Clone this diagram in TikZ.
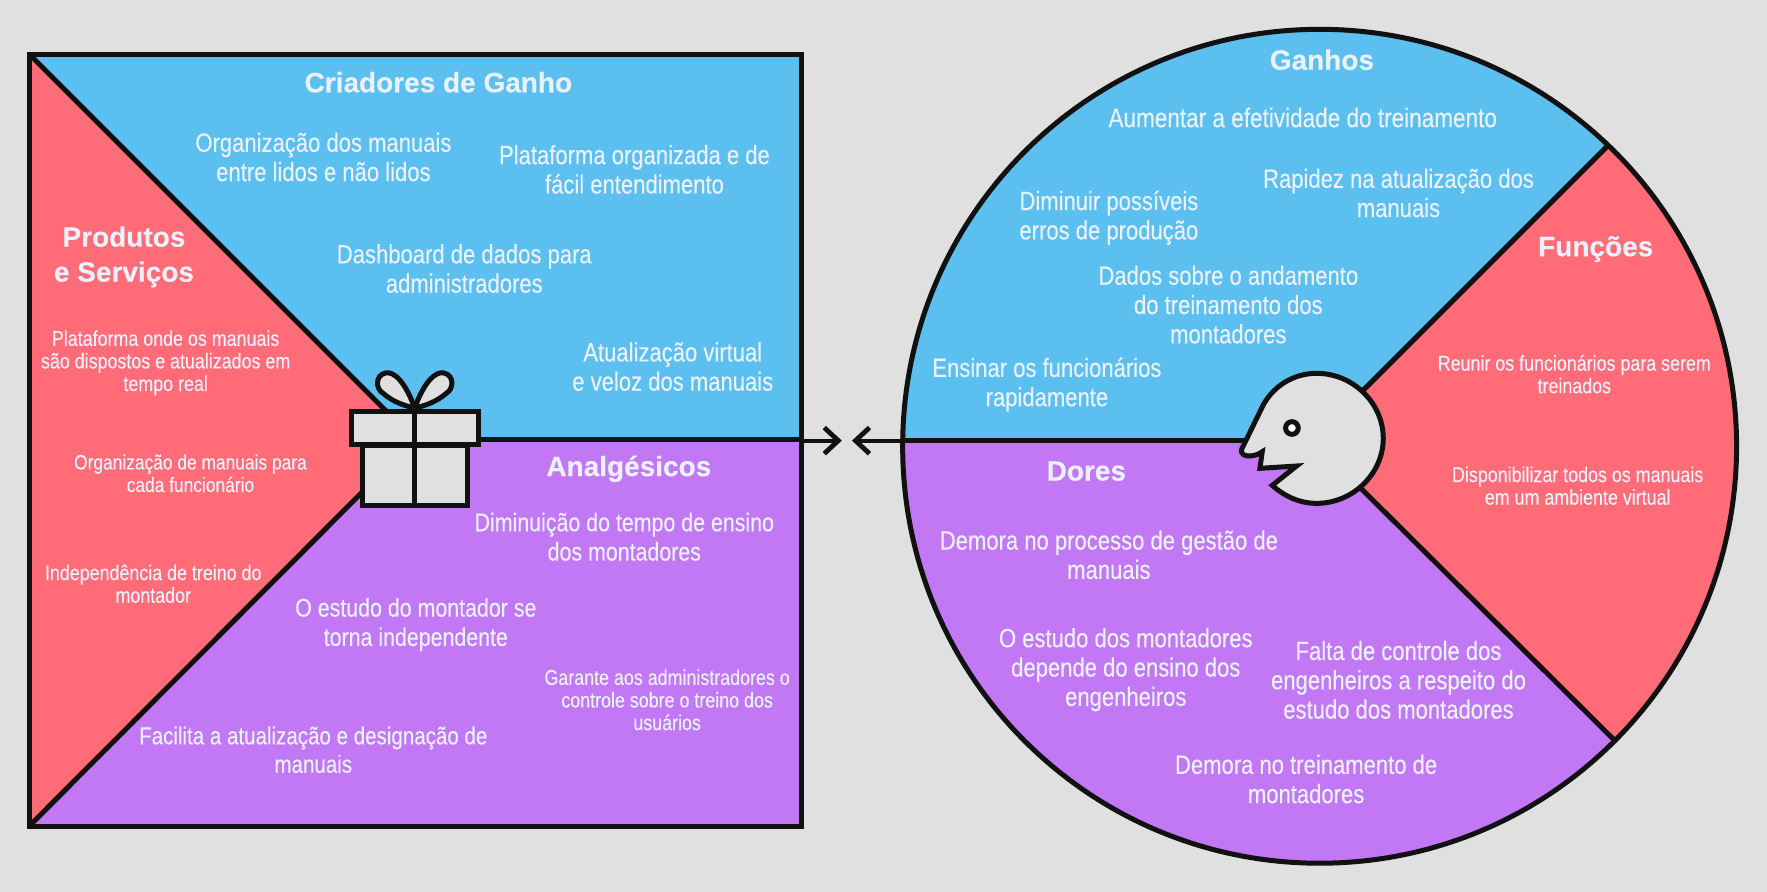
\documentclass[tikz,border=0pt]{standalone}
\usepackage{fontspec}
\setmainfont[FakeStretch=0.835,FakeBold=0.25]{Liberation Sans}
\newfontfamily\headfont[FakeBold=0.3]{Liberation Sans}
\usetikzlibrary{arrows.meta}
\definecolor{bgcol}{HTML}{E0E0E0}
\definecolor{bluecol}{HTML}{5BBFF0}
\definecolor{redcol}{HTML}{FF6B76}
\definecolor{purplecol}{HTML}{C278F5}
\definecolor{inkcol}{HTML}{111111}
\definecolor{textcol}{HTML}{EBF1FA}
\tikzset{
  body/.style={text=textcol,align=center,inner sep=0pt,yshift=0.4pt,font=\fontsize{13.2}{14.65}\selectfont},
  bodytight/.style={body,font=\fontsize{12.8}{14.65}\selectfont},
  bodywide/.style={body,font=\fontsize{12.3}{14.2}\selectfont},
  bodysmall/.style={text=textcol,align=center,inner sep=0pt,font=\fontsize{10.7}{11.3}\selectfont},
  heading/.style={text=textcol,align=center,inner sep=0pt,font=\headfont\bfseries\fontsize{14}{17.5}\selectfont},
  outline/.style={draw=inkcol,line width=2.5pt,line join=miter},
  iconpart/.style={draw=inkcol,fill=bgcol,line width=2.5pt},
  flowarrow/.style={draw=inkcol,line width=2pt,-{Straight Barb[length=7pt,width=13pt,line width=2.4pt]}}
}
\begin{document}
\begin{tikzpicture}[x=0.5635pt,y=-0.5635pt]
\useasboundingbox[fill=bgcol] (0,0) rectangle (1568,791.5);
\coordinate (sqTL) at (26,48);
\coordinate (sqTR) at (711,48);
\coordinate (sqBR) at (711,733);
\coordinate (sqBL) at (26,733);
\coordinate (sqC) at (368,390);
\coordinate (sqE) at (711,390);
\coordinate (circC) at (1171,396);
\coordinate (circW) at (801,391);
\coordinate (headC) at (1165,391);
\coordinate (tipA) at (747,391);
\coordinate (tipB) at (756,391);
% value proposition square
\fill[bluecol] (sqTL) -- (sqTR) -- (sqE) -- (sqC) -- cycle;
\fill[purplecol] (sqBL) -- (sqBR) -- (sqE) -- (sqC) -- cycle;
\fill[redcol] (sqTL) -- (sqC) -- (sqBL) -- cycle;
\draw[outline] (sqTL) -- (sqC) -- (sqBL);
\draw[outline] (sqC) -- (sqE);
\draw[outline] (sqTL) rectangle (sqBR);
% customer circle
\begin{scope}
\clip (circC) circle (370);
\fill[bluecol] (headC) -- (1465,91) -- (1465,0) -- (780,0) -- (780,391) -- cycle;
\fill[purplecol] (headC) -- (1465,689) -- (1465,800) -- (780,800) -- (780,391) -- cycle;
\fill[redcol] (headC) -- (1465,91) -- (1560,91) -- (1560,689) -- (1465,689) -- cycle;
\draw[outline] (1465,91) -- (headC) -- (1465,689);
\draw[outline] (circW) -- (headC);
\end{scope}
\draw[outline] (circC) circle (370);
% arrows between the two
\draw[flowarrow] (sqE |- tipA) -- (tipA);
\draw[flowarrow] (circW) -- (tipB);
% gift
\draw[iconpart] (368,362) .. controls (360,340) and (350,329) .. (342,331) .. controls (333,333) and (333,345) .. (340,349) .. controls (348,356) and (358,360) .. (368,362);
\draw[iconpart] (368,362) .. controls (376,340) and (386,329) .. (394,331) .. controls (403,333) and (403,345) .. (396,349) .. controls (388,356) and (378,360) .. (368,362);
\draw[iconpart] (322,395) rectangle (414.6,449);
\draw[iconpart] (312,365) rectangle (424.5,394.6);
\draw[draw=inkcol,line width=2.5pt] (368,365) -- (368,449);
% head
\begin{scope}[shift={(1020.4,301.7)},x=0.1667pt,y=-0.1667pt]
\draw[iconpart,line join=miter] (367,436) -- (440,378) -- (330,385) -- (337,335) .. controls (315,352) and (270,355) .. (275,328) -- (335,205) .. controls (365,140) and (430,100) .. (500,100) .. controls (610,100) and (700,190) .. (700,295) .. controls (700,400) and (610,490) .. (500,490) .. controls (450,490) and (405,470) .. (367,436) -- cycle;
\draw[draw=inkcol,fill=white,line width=2.5pt] (426,264) circle (19);
\end{scope}
% square texts
\node[heading] (crTitle) at (389,73) {Criadores de Ganho};
\node[body] (crA) at (287,140) {Organização dos manuais\\entre lidos e não lidos};
\node[body] (crB) at (563,151) {Plataforma organizada e de\\fácil entendimento};
\node[body] (crC) at (412,239) {Dashboard de dados para\\administradores};
\node[body] (crD) at (597,326) {Atualização virtual\\e veloz dos manuais};
\node[heading] (psTitle) at (110,228) {Produtos\\e Serviços};
\node[bodysmall] (psA) at (147,322) {Plataforma onde os manuais\\são dispostos e atualizados em\\tempo real};
\node[bodysmall,font=\fontsize{10.4}{11.3}\selectfont] (psB) at (169,420) {Organização de manuais para\\cada funcionário};
\node[bodysmall] (psC) at (136,518) {Independência de treino do\\montador};
\node[heading] (anTitle) at (558,416) {Analgésicos};
\node[bodytight] (anA) at (554,477) {Diminuição do tempo de ensino\\dos montadores};
\node[bodytight] (anB) at (369,555) {O estudo do montador se\\torna independente};
\node[bodysmall] (anC) at (592,621) {Garante aos administradores o\\controle sobre o treino dos\\usuários};
\node[bodywide] (anD) at (278,666) {Facilita a atualização e designação de\\manuais};
% circle texts
\node[heading] (gaTitle) at (1173,53) {Ganhos};
\node[body,font=\fontsize{13.5}{14.65}\selectfont] (gaA) at (1156,105) {Aumentar a efetividade do treinamento};
\node[body] (gaB) at (1241,172) {Rapidez na atualização dos\\manuais};
\node[body] (gaC) at (984,194) {Diminuir possíveis\\erros de produção};
\node[body] (gaD) at (1090,271) {Dados sobre o andamento\\do treinamento dos\\montadores};
\node[body] (gaE) at (929,342) {Ensinar os funcionários\\rapidamente};
\node[heading] (fuTitle) at (1416,221) {Funções};
\node[bodysmall] (fuA) at (1397,332) {Reunir os funcionários para serem\\treinados};
\node[bodysmall] (fuB) at (1400,431) {Disponibilizar todos os manuais\\em um ambiente virtual};
\node[heading] (doTitle) at (964,418) {Dores};
\node[body] (doA) at (984,493) {Demora no processo de gestão de\\manuais};
\node[body] (doB) at (999,595) {O estudo dos montadores\\depende do ensino dos\\engenheiros};
\node[body] (doC) at (1241,604) {Falta de controle dos\\engenheiros a respeito do\\estudo dos montadores};
\node[body] (doD) at (1159,692) {Demora no treinamento de\\montadores};
\end{tikzpicture}
\end{document}
